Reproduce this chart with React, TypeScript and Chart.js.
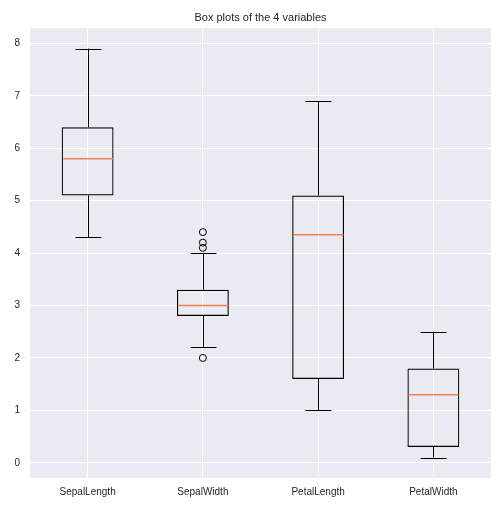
import React, { useEffect, useRef } from "react";
import { Chart, registerables } from "chart.js";

Chart.register(...registerables);

const categories = ["SepalLength", "SepalWidth", "PetalLength", "PetalWidth"];
const whiskerLow = [4.3, 2.2, 1.0, 0.1];
const q1 = [5.1, 2.8, 1.6, 0.3];
const medians = [5.8, 3.0, 4.35, 1.3];
const q3 = [6.4, 3.3, 5.1, 1.8];
const whiskerHigh = [7.9, 4.0, 6.9, 2.5];
const outlierCategory = ["SepalWidth", "SepalWidth", "SepalWidth", "SepalWidth"];
const outlierValues = [4.4, 4.1, 4.2, 2.0];
const yTicks = [0, 1, 2, 3, 4, 5, 6, 7, 8];
const title = "Box plots of the 4 variables";

const BOX_FRAC = 0.45;
const CAP_FRAC = 0.225;

const bgPlugin = {
  id: "plotBg",
  beforeDraw(chart: any) {
    const { ctx, chartArea } = chart;
    ctx.save();
    ctx.fillStyle = "#FFFFFF";
    ctx.fillRect(0, 0, chart.width, chart.height);
    ctx.fillStyle = "#EAEAF2";
    ctx.fillRect(chartArea.left, chartArea.top, chartArea.right - chartArea.left, chartArea.bottom - chartArea.top);
    ctx.restore();
  },
};

const whiskerPlugin = {
  id: "whiskers",
  afterDatasetsDraw(chart: any) {
    const { ctx } = chart;
    const xs = chart.scales.x;
    const ys = chart.scales.y;
    const unit = xs.getPixelForValue(1) - xs.getPixelForValue(0);
    ctx.save();
    for (let i = 0; i < categories.length; i++) {
      const cx = Math.round(xs.getPixelForValue(i)) + 0.5;
      const capHalf = (unit * CAP_FRAC) / 2;
      const boxHalf = (unit * BOX_FRAC) / 2;
      ctx.lineWidth = 1;
      ctx.strokeStyle = "#000000";
      ctx.beginPath();
      ctx.moveTo(cx, ys.getPixelForValue(q1[i]));
      ctx.lineTo(cx, ys.getPixelForValue(whiskerLow[i]));
      ctx.moveTo(cx, ys.getPixelForValue(q3[i]));
      ctx.lineTo(cx, ys.getPixelForValue(whiskerHigh[i]));
      const yl = Math.round(ys.getPixelForValue(whiskerLow[i])) + 0.5;
      const yh = Math.round(ys.getPixelForValue(whiskerHigh[i])) + 0.5;
      ctx.moveTo(cx - capHalf, yl);
      ctx.lineTo(cx + capHalf, yl);
      ctx.moveTo(cx - capHalf, yh);
      ctx.lineTo(cx + capHalf, yh);
      ctx.stroke();
      const ym = ys.getPixelForValue(medians[i]);
      ctx.strokeStyle = "#EE8550";
      ctx.lineWidth = 1.5;
      ctx.beginPath();
      ctx.moveTo(cx - boxHalf + 1, ym);
      ctx.lineTo(cx + boxHalf - 1, ym);
      ctx.stroke();
    }
    ctx.restore();
  },
};

export default function App() {
  const ref = useRef<HTMLCanvasElement | null>(null);
  useEffect(() => {
    if (!ref.current) return;
    const chart = new Chart(ref.current, {
      type: "bar",
      data: {
        labels: categories,
        datasets: [
          {
            type: "bar",
            data: categories.map((_, i) => [q1[i], q3[i]]) as any,
            backgroundColor: "rgba(0,0,0,0)",
            borderColor: "#000000",
            borderWidth: 1.2,
            borderSkipped: false,
            categoryPercentage: 1,
            barPercentage: BOX_FRAC,
          } as any,
          {
            type: "scatter",
            data: outlierValues.map((v, i) => ({ x: outlierCategory[i], y: v })) as any,
            pointRadius: 3.5,
            pointBorderWidth: 1,
            pointBorderColor: "#000000",
            pointBackgroundColor: "rgba(0,0,0,0)",
            showLine: false,
          } as any,
        ],
      },
      options: {
        responsive: false,
        animation: false,
        events: [],
        layout: { padding: { left: 0, right: 13, top: 0, bottom: 0 } },
        plugins: {
          legend: { display: false },
          tooltip: { enabled: false },
          title: {
            display: true,
            text: title,
            fullSize: false,
            color: "#262626",
            font: { family: "'Liberation Sans', Arial, sans-serif", size: 11, weight: "normal" },
            padding: { top: 11, bottom: 4 },
          },
        },
        scales: {
          x: {
            type: "category",
            offset: true,
            grid: { color: "#FFFFFF", lineWidth: 1, offset: false, drawTicks: false },
            border: { display: false },
            ticks: {
              color: "#262626",
              font: { family: "'Liberation Sans', Arial, sans-serif", size: 10 },
              padding: 8,
            },
            afterFit: (s: any) => {
              s.height = 31;
            },
          },
          y: {
            type: "linear",
            min: -0.29,
            max: 8.29,
            grid: { color: "#FFFFFF", lineWidth: 1, drawTicks: false },
            border: { display: false },
            afterBuildTicks: (s: any) => {
              s.ticks = yTicks.map((v) => ({ value: v }));
            },
            ticks: {
              color: "#262626",
              font: { family: "'Liberation Sans', Arial, sans-serif", size: 10 },
              padding: 10,
            },
            afterFit: (s: any) => {
              s.width = 30;
            },
          },
        },
      },
      plugins: [bgPlugin, whiskerPlugin],
    });
    return () => chart.destroy();
  }, []);
  return (
    <div style={{ position: "absolute", left: 0, top: 0, width: 504, height: 509 }}>
      <canvas ref={ref} width={504} height={509} style={{ display: "block" }} />
    </div>
  );
}
